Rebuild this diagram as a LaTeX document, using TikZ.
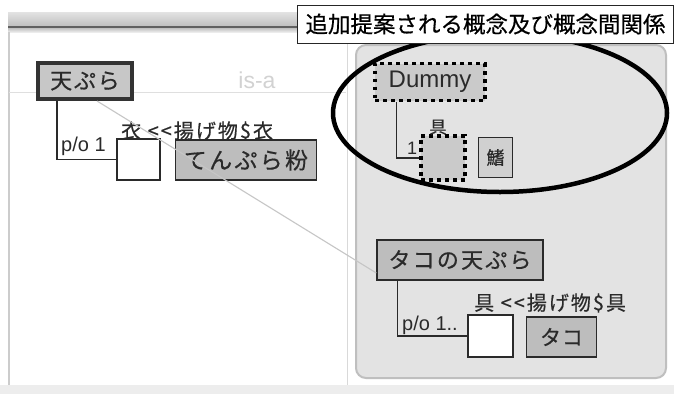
\documentclass[tikz,border=0pt]{standalone}
\usepackage{fontspec}
\setmainfont{Noto Sans CJK JP}[FakeBold=0.5]
\newfontfamily\arialfont{Liberation Sans}
\definecolor{nodegray}{HTML}{BDBDBD}
\definecolor{panelgray}{HTML}{E3E3E3}
\definecolor{stripgray}{HTML}{EDEDED}
\definecolor{textdark}{HTML}{2A2A2A}
\newcommand{\jsz}[2]{\fontsize{#1}{#1}\selectfont\addfontfeature{LetterSpace=#2}}
\tikzset{
  concept/.style={draw=textdark, fill=nodegray, line width=1.6pt, inner sep=0pt, text=textdark},
  slot/.style={draw=textdark, fill=white, line width=1.3pt, inner sep=0pt},
  dotbox/.style={draw=black, fill=nodegray!80, line width=3.6pt, dash pattern=on 3.6pt off 4.4pt, inner sep=0pt},
  lbl/.style={inner sep=0pt, text=textdark},
  latin/.style={inner sep=0pt, text=textdark, font=\arialfont\fontsize{20}{20}\selectfont},
  link/.style={draw=textdark, line width=1.3pt},
  isa/.style={draw=gray!45, line width=1.1pt},
}
\begin{document}
\begin{tikzpicture}[x=1pt,y=-1pt]
\useasboundingbox (0,0) rectangle (674,394);
% background
\fill[white] (0,0) rectangle (674,394);
\fill[stripgray] (0,385) rectangle (674,394);
% top bar
\shade[top color=gray!22, bottom color=gray!50] (8,12) rectangle (300,26);
\fill[gray!75!black] (8,26) rectangle (300,28.5);
\shade[top color=gray!45, bottom color=gray!15] (8,28.5) rectangle (300,32);
% left panel frame
\draw[gray!40, line width=1.2pt] (9,32) -- (9,385);
\draw[gray!30, line width=1pt] (347,32) -- (347,385);
\draw[gray!25, line width=1pt] (9,92) -- (346,92);
\node[inner sep=0pt, text=gray!35, font=\arialfont\fontsize{23}{23}\selectfont] (isalbl) at (257,80) {is-a};
% right panel
\draw[rounded corners=10pt, fill=panelgray, draw=gray!50, line width=2pt] (356,45) rectangle (666,378);
% left concept
\node[concept, line width=4pt, draw=black!80, fill=nodegray!85, minimum width=94, minimum height=36,
  font=\jsz{22}{8}] (tenpura) at (85,81) {天ぷら};
\node[slot, minimum width=43, minimum height=41] (wb1) at (138.5,159.5) {};
\node[concept, line width=1.4pt, minimum width=141, minimum height=40, font=\jsz{23}{10}] (koromo) at (246,160) {てんぷら粉};
\node[lbl, anchor=west, font=\jsz{20}{10}] (l1) at (121,131) {衣 {<}{<}揚げ物\$衣};
\draw[link] ([xshift=21pt]tenpura.south west) |- (wb1.west);
\node[latin, anchor=south west] (po1) at (61,156) {p/o 1};
% right panel nodes
\node[concept, line width=1.4pt, minimum width=166, minimum height=40, font=\jsz{22}{10}] (takotenpura) at (460,260) {タコの天ぷら};
\node[slot, minimum width=45, minimum height=42] (wb2) at (490.5,336) {};
\node[concept, line width=1.4pt, minimum width=70, minimum height=40, font=\jsz{21}{4}] (tako) at (561.5,337) {タコ};
\node[lbl, anchor=west, font=\jsz{20}{10}] (l2) at (474,303) {具 {<}{<}揚げ物\$具};
\draw[link] ([xshift=21pt]takotenpura.south west) |- (wb2.west);
\node[latin, anchor=south west] (po2) at (402,335) {p/o 1..};
% is-a link
\draw[isa] ([xshift=12pt]tenpura.south) -- ([yshift=-13pt]takotenpura.west);
% proposed
\node[dotbox, minimum width=110, minimum height=37, font=\arialfont\fontsize{24}{24}\selectfont, text=textdark] (dummy) at (430,82) {Dummy};
\node[dotbox, minimum width=44, minimum height=44] (db) at (443,158) {};
\node[concept, line width=1.4pt, minimum width=34, minimum height=40, fill=nodegray!110!black, font=\jsz{18}{0}] (hire) at (495.5,157.5) {鰭};
\draw[link] ([xshift=23pt]dummy.south west) |- (db.west);
\node[latin, font=\arialfont\fontsize{18}{18}\selectfont] (one) at (412,148) {1};
\node[lbl, font=\jsz{17}{0}] (gu) at (438,127) {具};
% ellipse
\draw[black, line width=4.5pt] (500,113) ellipse [x radius=167, y radius=79];
% title
\node[draw=black!85, fill=white, line width=0.8pt, inner sep=0pt, minimum width=376.5, minimum height=38,
  font=\jsz{22.5}{0}, text=black] (title) at (485.5,24) {追加提案される概念及び概念間関係};
\end{tikzpicture}
\end{document}
